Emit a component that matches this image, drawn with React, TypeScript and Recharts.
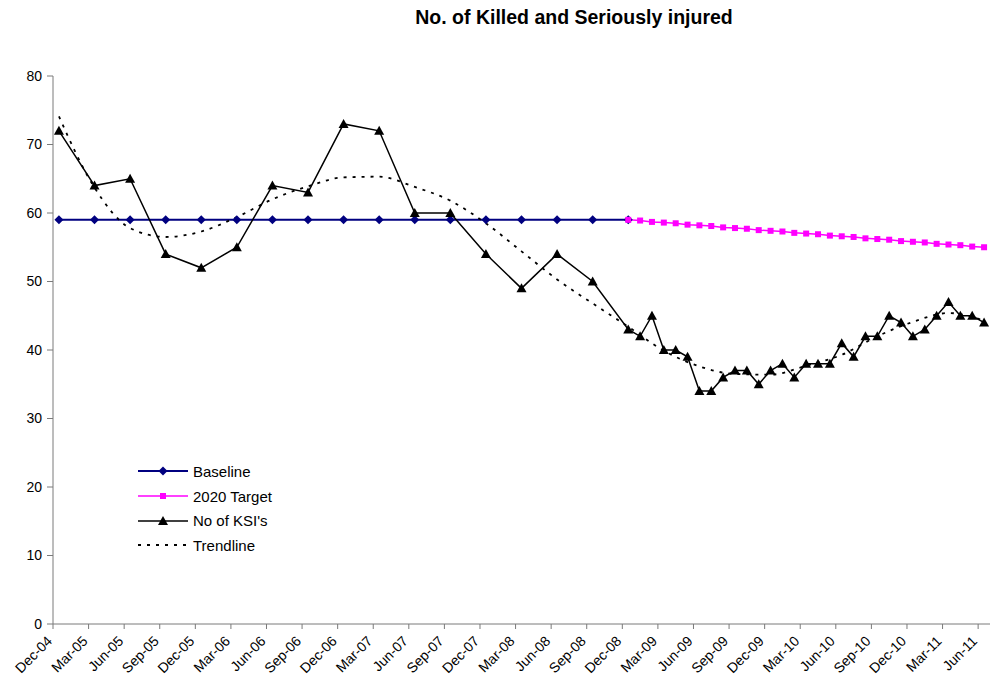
import React from "react";
import { LineChart, Line, XAxis, YAxis, Legend } from "recharts";

// quarterly tick labels along the x axis (one every 3 months)
const quarterLabels = [
  "Dec-04", "Mar-05", "Jun-05", "Sep-05", "Dec-05", "Mar-06", "Jun-06", "Sep-06",
  "Dec-06", "Mar-07", "Jun-07", "Sep-07", "Dec-07", "Mar-08", "Jun-08", "Sep-08",
  "Dec-08", "Mar-09", "Jun-09", "Sep-09", "Dec-09", "Mar-10", "Jun-10", "Sep-10",
  "Dec-10", "Mar-11", "Jun-11",
];

// Baseline: quarterly, Dec-04 .. Dec-08
const baselineValues = [59, 59, 59, 59, 59, 59, 59, 59, 59, 59, 59, 59, 59, 59, 59, 59, 59];

// 2020 Target: monthly, Dec-08 .. Jun-11
const targetValues = [
  59.0, 58.9, 58.7, 58.6, 58.5, 58.3, 58.2, 58.1, 57.9, 57.8, 57.7, 57.5, 57.4, 57.3, 57.1, 57.0,
  56.9, 56.7, 56.6, 56.5, 56.3, 56.2, 56.1, 55.9, 55.8, 55.7, 55.5, 55.4, 55.3, 55.1, 55.0,
];

// No of KSI's: quarterly Dec-04 .. Dec-08, then monthly Jan-09 .. Jun-11
const ksiQuarterly = [72, 64, 65, 54, 52, 55, 64, 63, 73, 72, 60, 60, 54, 49, 54, 50, 43];
const ksiMonthly = [
  42, 45, 40, 40, 39, 34, 34, 36, 37, 37, 35, 37, 38, 36, 38, 38, 38, 41, 39, 42, 42, 45, 44, 42,
  43, 45, 47, 45, 45, 44,
];

// Trendline read at each quarter, Dec-04 .. Jun-11
const trendValues = [
  74.1, 63.7, 57.8, 56.5, 57.3, 59.4, 62.0, 63.9, 65.2, 65.3, 63.8, 61.8, 58.5, 54.4, 50.3, 46.8,
  43.4, 39.9, 37.6, 36.5, 36.4, 37.7, 39.3, 42.0, 44.1, 45.4, 44.3,
];

const yTicks = [0, 10, 20, 30, 40, 50, 60, 70, 80];

const FONT = "Arial, 'Liberation Sans', sans-serif";
const AXIS = "#7a7a7a";
const NAVY = "#000080";
const MAGENTA = "#ff00ff";

const seriesOrder = ["baseline", "target", "ksi", "trend"];

const monthCount = quarterLabels.length * 3 - 2; // Dec-04 .. Jun-11
const targetStart = (baselineValues.length - 1) * 3;

const data = Array.from({ length: monthCount }, (_, m) => {
  const q = m % 3 === 0 ? m / 3 : -1;
  return {
    m,
    baseline: q >= 0 && q < baselineValues.length ? baselineValues[q] : null,
    target: m >= targetStart ? targetValues[m - targetStart] : null,
    ksi: m <= targetStart ? (q >= 0 ? ksiQuarterly[q] : null) : ksiMonthly[m - targetStart - 1],
    trend: q >= 0 ? trendValues[q] : null,
  };
});

const xTicks = quarterLabels.map((_, i) => i * 3 - 0.5);

const Diamond = (props: any) => {
  const { cx, cy, value } = props;
  if (value == null || cy == null) return <g key={props.key} />;
  return (
    <polygon
      key={props.key}
      points={`${cx},${cy - 4.5} ${cx + 4.5},${cy} ${cx},${cy + 4.5} ${cx - 4.5},${cy}`}
      fill={NAVY}
    />
  );
};

const Square = (props: any) => {
  const { cx, cy, value } = props;
  if (value == null || cy == null) return <g key={props.key} />;
  return <rect key={props.key} x={cx - 3} y={cy - 3} width={6} height={6} fill={MAGENTA} />;
};

const Triangle = (props: any) => {
  const { cx, cy, value } = props;
  if (value == null || cy == null) return <g key={props.key} />;
  return (
    <polygon
      key={props.key}
      points={`${cx},${cy - 5} ${cx + 5},${cy + 4} ${cx - 5},${cy + 4}`}
      fill="#000"
    />
  );
};

const MonthTick = (props: any) => {
  const { x, y, payload } = props;
  const label = quarterLabels[Math.round((payload.value + 0.5) / 3)];
  const ty = y + 11;
  return (
    <text
      x={x}
      y={ty}
      transform={`rotate(-45 ${x} ${ty})`}
      textAnchor="end"
      fontSize={14}
      fontFamily={FONT}
      fill="#000"
    >
      {label}
    </text>
  );
};

const legendMarker: Record<string, React.ReactNode> = {
  baseline: <polygon points="25,2.5 29.5,7 25,11.5 20.5,7" fill={NAVY} />,
  target: <rect x={22} y={4} width={6} height={6} fill={MAGENTA} />,
  ksi: <polygon points="25,2 30,11 20,11" fill="#000" />,
  trend: null,
};

const LegendBox = ({ payload }: any) => {
  const items = [...(payload || [])].sort(
    (a: any, b: any) => seriesOrder.indexOf(a.dataKey) - seriesOrder.indexOf(b.dataKey)
  );
  return (
    <div style={{ fontFamily: FONT, fontSize: 15, color: "#000" }}>
      {items.map((entry: any) => {
        const key = entry.dataKey;
        const dashed = key === "trend";
        return (
          <div key={key} style={{ display: "flex", alignItems: "center", height: 24.7 }}>
            <svg width={52} height={14} style={{ marginRight: 3 }}>
              <line
                x1={0}
                y1={7}
                x2={50}
                y2={7}
                stroke={entry.color}
                strokeWidth={dashed ? 1.8 : key === "baseline" ? 2 : 1.5}
                strokeDasharray={dashed ? "3 6" : undefined}
              />
              {legendMarker[key]}
            </svg>
            <span style={{ whiteSpace: "nowrap" }}>{entry.value}</span>
          </div>
        );
      })}
    </div>
  );
};

export default function App() {
  return (
    <div
      style={{
        position: "absolute",
        left: 0,
        top: 0,
        width: 991,
        height: 691,
        background: "#fff",
        fontFamily: FONT,
        overflow: "hidden",
      }}
    >
      <div
        style={{
          position: "absolute",
          left: 324,
          width: 500,
          top: 6,
          textAlign: "center",
          fontWeight: "bold",
          fontSize: 19.5,
          zIndex: 2,
        }}
      >
        No. of Killed and Seriously injured
      </div>
      <LineChart
        width={991}
        height={691}
        data={data}
        margin={{ top: 76, right: 1, bottom: 0, left: 0 }}
      >
        <XAxis
          dataKey="m"
          type="number"
          domain={[-0.5, 78.5]}
          ticks={xTicks}
          interval={0}
          tickSize={5}
          height={67}
          tick={(p: any) => <MonthTick {...p} />}
          axisLine={{ stroke: AXIS }}
          tickLine={{ stroke: AXIS }}
        />
        <YAxis
          type="number"
          domain={[0, 80]}
          ticks={yTicks}
          interval={0}
          width={53}
          tickSize={6}
          tickMargin={5}
          tick={{ fontSize: 14, fill: "#000", fontFamily: FONT }}
          axisLine={{ stroke: AXIS }}
          tickLine={{ stroke: AXIS }}
        />
        <Legend
          layout="horizontal"
          verticalAlign="middle"
          align="center"
          content={<LegendBox />}
          wrapperStyle={{ left: 138, top: 459, width: 220, height: 100 }}
        />
        <Line
          dataKey="baseline"
          name="Baseline"
          stroke={NAVY}
          strokeWidth={2}
          connectNulls
          dot={Diamond}
          activeDot={false}
          isAnimationActive={false}
        />
        <Line
          dataKey="target"
          name="2020 Target"
          stroke={MAGENTA}
          strokeWidth={1.5}
          connectNulls
          dot={Square}
          activeDot={false}
          isAnimationActive={false}
        />
        <Line
          dataKey="ksi"
          name="No of KSI's"
          stroke="#000"
          strokeWidth={1.5}
          connectNulls
          dot={Triangle}
          activeDot={false}
          isAnimationActive={false}
        />
        <Line
          dataKey="trend"
          name="Trendline"
          type="monotone"
          stroke="#000"
          strokeWidth={1.8}
          strokeDasharray="3 6"
          connectNulls
          dot={false}
          activeDot={false}
          isAnimationActive={false}
        />
      </LineChart>
    </div>
  );
}
